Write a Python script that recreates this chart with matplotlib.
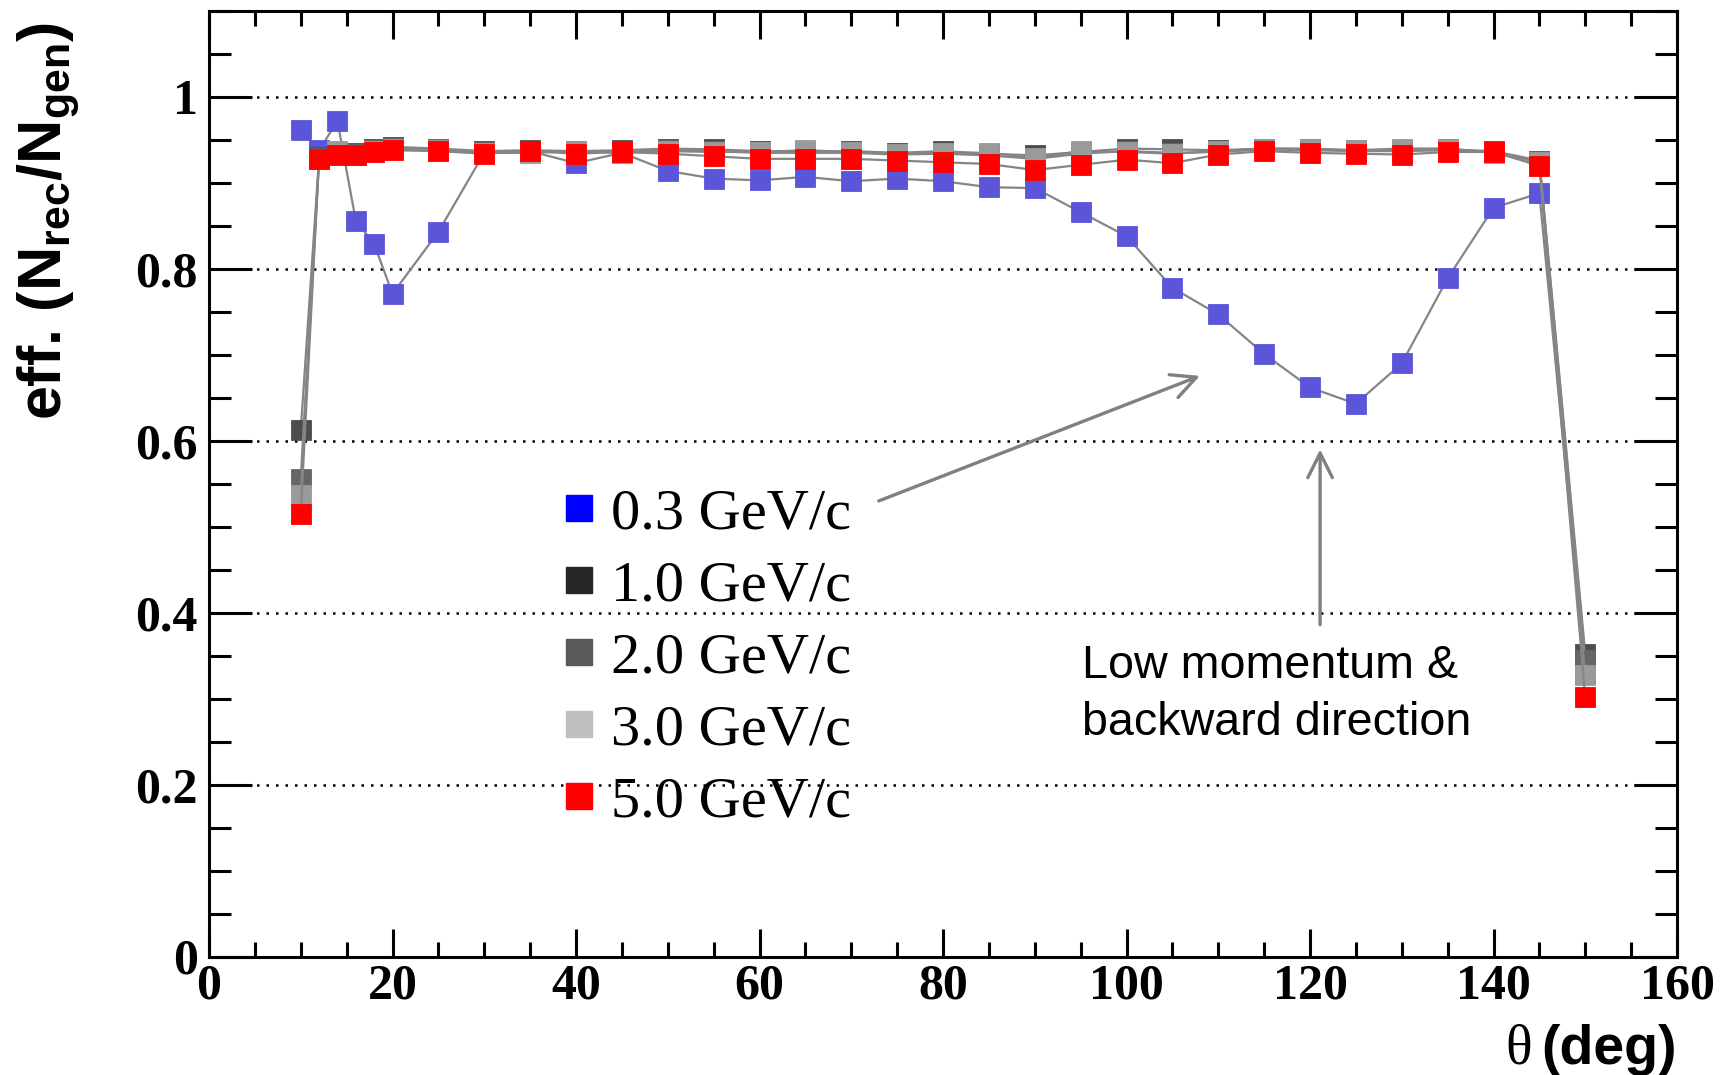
import matplotlib
matplotlib.use("Agg")
import matplotlib.pyplot as plt
from matplotlib.lines import Line2D
from matplotlib.ticker import MultipleLocator, FixedLocator

# Reconstruction efficiency vs polar angle for several momenta
theta = [10, 12, 14, 16, 18, 20, 25, 30, 35, 40, 45, 50, 55, 60, 65, 70, 75,
         80, 85, 90, 95, 100, 105, 110, 115, 120, 125, 130, 135, 140, 145, 150]

eff_p03 = [0.962, 0.938, 0.972, 0.856, 0.829, 0.771, 0.843, 0.935, 0.937, 0.923,
           0.935, 0.914, 0.905, 0.903, 0.907, 0.902, 0.905, 0.902, 0.895, 0.894,
           0.866, 0.838, 0.778, 0.747, 0.701, 0.662, 0.643, 0.690, 0.789, 0.871,
           0.888, 0.330]
eff_p10 = [0.612, 0.930, 0.935, 0.935, 0.940, 0.942, 0.940, 0.937, 0.938, 0.937,
           0.938, 0.940, 0.939, 0.937, 0.936, 0.937, 0.935, 0.937, 0.934, 0.932,
           0.936, 0.940, 0.939, 0.938, 0.940, 0.939, 0.938, 0.938, 0.939, 0.937,
           0.926, 0.352]
eff_p20 = [0.556, 0.929, 0.936, 0.934, 0.938, 0.941, 0.939, 0.936, 0.936, 0.936,
           0.936, 0.938, 0.937, 0.935, 0.935, 0.935, 0.933, 0.934, 0.932, 0.928,
           0.934, 0.937, 0.935, 0.936, 0.939, 0.938, 0.937, 0.937, 0.938, 0.936,
           0.925, 0.345]
eff_p30 = [0.537, 0.928, 0.937, 0.933, 0.937, 0.940, 0.938, 0.935, 0.935, 0.937,
           0.935, 0.937, 0.936, 0.936, 0.938, 0.936, 0.934, 0.935, 0.935, 0.929,
           0.937, 0.936, 0.934, 0.937, 0.940, 0.940, 0.938, 0.940, 0.940, 0.935,
           0.924, 0.327]
eff_p50 = [0.515, 0.928, 0.932, 0.932, 0.936, 0.938, 0.937, 0.934, 0.937, 0.934,
           0.936, 0.934, 0.931, 0.928, 0.928, 0.928, 0.926, 0.924, 0.922, 0.915,
           0.921, 0.927, 0.923, 0.933, 0.937, 0.935, 0.934, 0.933, 0.936, 0.936,
           0.920, 0.302]

labels = ["0.3 GeV/c", "1.0 GeV/c", "2.0 GeV/c", "3.0 GeV/c", "5.0 GeV/c"]
series = [eff_p03, eff_p10, eff_p20, eff_p30, eff_p50]
marker_colors = ["#5b55d9", "#4d4d4d", "#666666", "#9a9a9a", "#ff0000"]
legend_colors = ["#0000ff", "#262626", "#595959", "#bfbfbf", "#ff0000"]

x_ticks = [0, 20, 40, 60, 80, 100, 120, 140, 160]
y_ticks = [0, 0.2, 0.4, 0.6, 0.8, 1.0]
y_tick_labels = ["0", "0.2", "0.4", "0.6", "0.8", "1"]

W, H = 1722, 1075
fig = plt.figure(figsize=(W / 100, H / 100), dpi=100)
ax_l, ax_r, ax_t, ax_b = 209, 1677, 11, 956.5
ax = fig.add_axes([ax_l / W, 1 - ax_b / H, (ax_r - ax_l) / W, (ax_b - ax_t) / H])

ax.set_xlim(0, 160)
ax.set_ylim(0, 1.1)

for i, (vals, mc) in enumerate(zip(series, marker_colors)):
    ax.plot(theta, vals, color="#858585", lw=1.6, zorder=3 + i)
    ax.plot(theta, vals, ls="none", marker="s", ms=14.4, mfc=mc, mec=mc,
            mew=0.6, zorder=3 + i)

# dotted horizontal grid at the major y ticks
for yv in y_ticks[1:]:
    ax.axhline(yv, color="black", lw=1.8, dashes=(1.0, 2.8), zorder=1)

serif_bold = dict(family="Liberation Serif", weight="bold", size=36)
ax.xaxis.set_major_locator(FixedLocator(x_ticks))
ax.xaxis.set_minor_locator(MultipleLocator(5))
ax.yaxis.set_major_locator(FixedLocator(y_ticks))
ax.yaxis.set_minor_locator(MultipleLocator(0.05))
ax.set_xticklabels([str(v) for v in x_ticks], fontdict=serif_bold)
ax.set_yticklabels(y_tick_labels, fontdict=serif_bold)

ax.tick_params(axis="both", which="both", direction="in", top=True, right=True,
               width=2.2, color="black")
ax.tick_params(axis="y", which="major", length=31, pad=8)
ax.tick_params(axis="y", which="minor", length=15.8)
ax.tick_params(axis="x", which="major", length=20, pad=5)
ax.tick_params(axis="x", which="minor", length=10.8)
for sp in ax.spines.values():
    sp.set_linewidth(2.2)

# axis titles
plt.rcParams["mathtext.fontset"] = "custom"
plt.rcParams["mathtext.rm"] = "Liberation Sans:bold"
plt.rcParams["mathtext.bf"] = "Liberation Sans:bold"
plt.rcParams["mathtext.it"] = "Liberation Sans:bold"
fig.text(49 / W, 1 - 22 / H, r"eff. (N$_{\mathrm{rec}}$/N$_{\mathrm{gen}}$)",
         rotation=90, ha="center", va="top", family="Liberation Sans",
         weight="bold", size=44)
fig.text(ax_r / W, 1 - 1064 / H, "(deg)", ha="right", va="baseline",
         family="Liberation Sans", weight="bold", size=40)
fig.text(1532 / W, 1 - 1064 / H, "\u03b8", ha="right", va="baseline",
         family="Liberation Serif", size=40)

# legend
handles = [Line2D([], [], ls="none", marker="s", ms=18.7, mfc=c, mec=c)
           for c in legend_colors]
ax.legend(handles, labels, loc="upper left", bbox_to_anchor=(0.242, 0.496),
          frameon=False, borderpad=0, borderaxespad=0, handlelength=0.5,
          handletextpad=0.3, labelspacing=0.33,
          prop=dict(family="Liberation Serif", size=42))

# annotation with arrows
ax.text(95.15, 0.2576, "Low momentum &\nbackward direction", ha="left",
        va="baseline", family="Liberation Sans", size=33.6, linespacing=1.39)
arrow = dict(arrowstyle="->,head_length=0.8,head_width=0.4", color="#808080",
             lw=2.4, mutation_scale=22, shrinkA=0, shrinkB=0)
ax.annotate("", xy=(108.0, 0.6755), xytext=(73.0, 0.530), arrowprops=arrow)
ax.annotate("", xy=(121.1, 0.590), xytext=(121.1, 0.386), arrowprops=arrow)

fig.savefig("out.png", dpi=100)
